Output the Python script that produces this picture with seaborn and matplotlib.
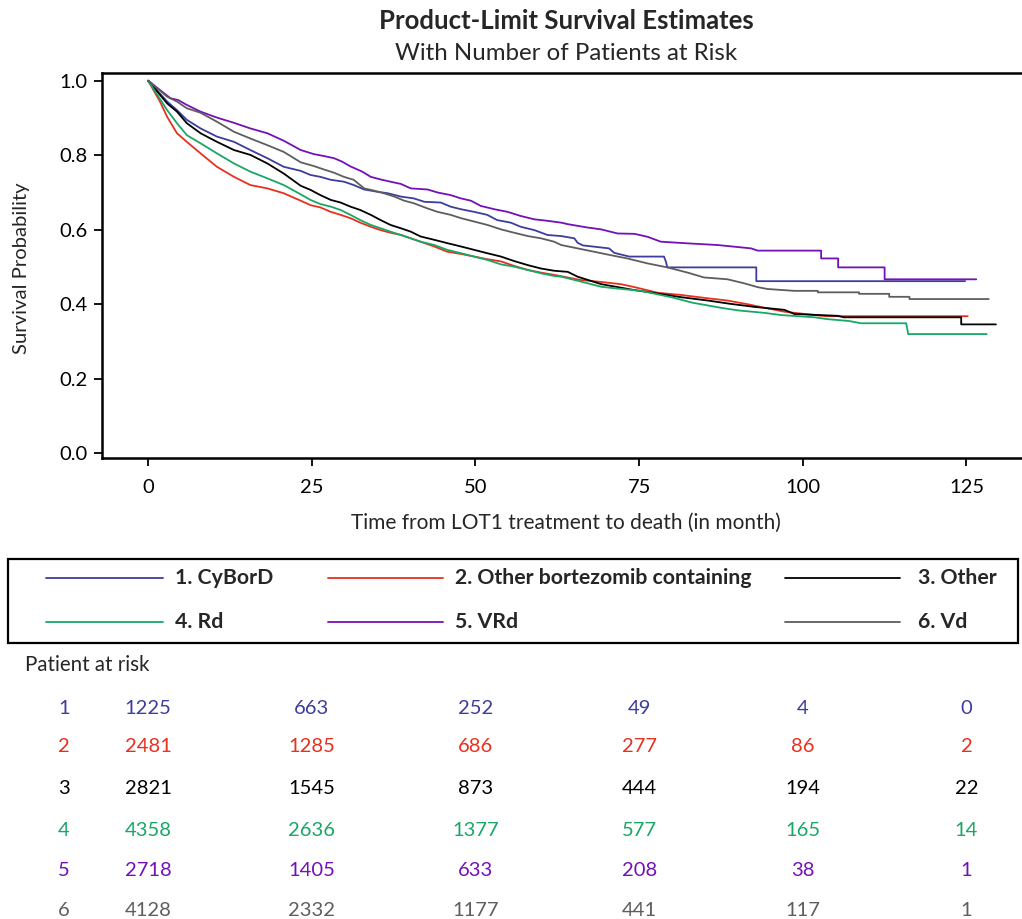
import numpy as np
import pandas as pd
import matplotlib
matplotlib.use("Agg")
import matplotlib.pyplot as plt
import seaborn as sns
from matplotlib.lines import Line2D
from matplotlib.patches import Rectangle
from matplotlib.transforms import blended_transform_factory

# ---------------- data ----------------
groups = ["1. CyBorD", "2. Other bortezomib containing", "3. Other", "4. Rd", "5. VRd", "6. Vd"]
colors = ["#3d3d9e", "#e8301f", "#000000", "#17a865", "#7410b8", "#5e5e5e"]

cybord_t = [0, 2.9, 4.4, 5.9, 8.0, 10.5, 13.1, 15.6, 18.2, 20.7, 23.3, 24.8, 26.3, 27.9, 29.9, 31.4, 33.0,
            35.0, 36.6, 38.6, 40.6, 42.2, 44.7, 46.2, 47.8, 49.8, 51.8, 53.3, 55.4, 56.9, 59.0, 61.0, 63.1,
            65.1, 65.6, 66.4, 70.4, 71.2, 73.5, 78.8, 79.1, 79.3, 92.9, 92.9, 124.8]
cybord_s = [1.0, 0.944, 0.921, 0.895, 0.872, 0.850, 0.836, 0.814, 0.792, 0.769, 0.758, 0.747, 0.742, 0.734,
            0.729, 0.720, 0.708, 0.702, 0.698, 0.689, 0.684, 0.675, 0.673, 0.662, 0.655, 0.648, 0.640, 0.626,
            0.619, 0.608, 0.599, 0.586, 0.583, 0.577, 0.565, 0.558, 0.550, 0.538, 0.528, 0.528, 0.514, 0.499,
            0.499, 0.462, 0.462]

obort_t = [0, 1.8, 2.9, 4.4, 5.9, 8.0, 10.5, 13.1, 15.6, 18.2, 20.7, 23.3, 24.8, 26.3, 27.9, 29.4, 30.9,
           32.4, 34.0, 35.5, 37.0, 38.6, 40.1, 41.6, 43.7, 45.7, 47.8, 49.8, 51.8, 53.9, 55.9, 58.0, 60.0,
           62.0, 66.1, 68.6, 72.2, 74.3, 77.8, 81.4, 85.5, 88.5, 91.6, 94.6, 97.2, 101.8, 103.6, 125.2]
obort_s = [1.0, 0.944, 0.903, 0.859, 0.836, 0.805, 0.769, 0.742, 0.720, 0.711, 0.698, 0.678, 0.666, 0.660,
           0.648, 0.640, 0.631, 0.619, 0.608, 0.599, 0.592, 0.586, 0.577, 0.568, 0.555, 0.541, 0.535, 0.528,
           0.521, 0.515, 0.503, 0.492, 0.485, 0.479, 0.465, 0.461, 0.454, 0.446, 0.431, 0.425, 0.416, 0.410,
           0.400, 0.389, 0.380, 0.371, 0.368, 0.368]

other_t = [0, 2.9, 4.4, 5.9, 8.0, 10.5, 13.1, 15.6, 18.2, 20.7, 23.3, 24.8, 26.3, 27.9, 29.4, 30.9, 32.4,
           34.0, 35.5, 37.0, 38.6, 40.1, 41.6, 43.7, 45.7, 47.8, 49.8, 51.8, 53.9, 55.9, 58.0, 60.0, 62.0,
           64.1, 65.6, 69.2, 74.3, 77.8, 81.4, 85.5, 89.0, 92.6, 97.2, 98.7, 105.3, 106.3, 124.2, 124.2, 129.5]
other_s = [1.0, 0.939, 0.917, 0.886, 0.859, 0.836, 0.814, 0.801, 0.778, 0.751, 0.718, 0.707, 0.693, 0.680,
           0.673, 0.662, 0.653, 0.640, 0.626, 0.613, 0.604, 0.595, 0.582, 0.573, 0.564, 0.555, 0.546, 0.537,
           0.528, 0.516, 0.505, 0.496, 0.490, 0.487, 0.474, 0.454, 0.438, 0.429, 0.419, 0.410, 0.401, 0.393,
           0.385, 0.374, 0.369, 0.365, 0.365, 0.346, 0.346]

rd_t = [0, 2.9, 4.4, 5.9, 8.0, 10.5, 13.1, 15.6, 18.2, 20.7, 23.3, 24.8, 26.3, 27.9, 29.4, 30.9, 32.4, 34.0,
        35.5, 37.0, 38.6, 40.1, 41.6, 43.7, 45.7, 47.8, 49.8, 51.8, 53.9, 55.9, 58.0, 60.0, 62.0, 63.1, 66.1,
        69.2, 71.2, 75.3, 79.9, 83.2, 88.0, 90.4, 94.1, 96.7, 101.8, 103.8, 107.1, 108.9, 115.8, 116.1, 128.1]
rd_s = [1.0, 0.921, 0.886, 0.854, 0.832, 0.805, 0.778, 0.756, 0.738, 0.720, 0.695, 0.680, 0.669, 0.662, 0.653,
        0.640, 0.626, 0.613, 0.604, 0.595, 0.586, 0.577, 0.568, 0.559, 0.546, 0.537, 0.528, 0.519, 0.507, 0.501,
        0.492, 0.483, 0.476, 0.474, 0.461, 0.447, 0.443, 0.436, 0.419, 0.404, 0.389, 0.383, 0.377, 0.371, 0.365,
        0.360, 0.355, 0.349, 0.349, 0.320, 0.320]

vrd_t = [0, 3.4, 4.6, 5.9, 8.0, 10.5, 13.1, 15.6, 18.2, 20.7, 23.3, 25.3, 26.8, 28.4, 29.6, 30.9, 32.7, 34.0,
         35.5, 37.0, 38.6, 40.1, 42.7, 44.2, 46.2, 47.8, 49.3, 50.8, 52.9, 54.9, 56.9, 59.0, 61.0, 63.1, 64.1,
         67.1, 69.2, 71.7, 74.3, 76.3, 78.3, 81.9, 87.0, 92.1, 93.1, 102.8, 102.8, 105.4, 105.4, 112.5, 112.5,
         126.5]
vrd_s = [1.0, 0.953, 0.948, 0.935, 0.917, 0.901, 0.887, 0.872, 0.859, 0.839, 0.814, 0.803, 0.798, 0.792, 0.783,
         0.770, 0.756, 0.742, 0.735, 0.729, 0.723, 0.711, 0.708, 0.700, 0.693, 0.684, 0.678, 0.664, 0.655, 0.648,
         0.637, 0.628, 0.624, 0.619, 0.615, 0.606, 0.601, 0.590, 0.589, 0.581, 0.568, 0.564, 0.559, 0.550, 0.544,
         0.544, 0.523, 0.523, 0.499, 0.499, 0.467, 0.467]

vd_t = [0, 2.9, 4.4, 5.9, 8.0, 10.5, 13.1, 15.6, 18.2, 20.7, 23.3, 25.3, 26.8, 28.4, 29.9, 31.4, 33.0, 34.5,
        36.0, 37.6, 39.1, 40.6, 42.7, 44.2, 46.2, 47.8, 49.8, 51.8, 53.9, 55.9, 58.0, 60.0, 62.0, 63.1, 65.6,
        68.1, 70.6, 73.2, 76.2, 79.3, 82.4, 84.9, 88.5, 91.1, 93.1, 94.6, 98.7, 102.3, 102.3, 108.6, 108.6,
        113.2, 113.2, 116.3, 116.3, 128.4]
vd_s = [1.0, 0.957, 0.944, 0.926, 0.914, 0.890, 0.863, 0.845, 0.827, 0.809, 0.781, 0.771, 0.762, 0.753, 0.742,
        0.734, 0.711, 0.705, 0.698, 0.689, 0.678, 0.671, 0.657, 0.648, 0.640, 0.631, 0.622, 0.613, 0.601, 0.592,
        0.583, 0.577, 0.568, 0.559, 0.550, 0.541, 0.532, 0.523, 0.510, 0.499, 0.485, 0.472, 0.467, 0.456, 0.446,
        0.441, 0.436, 0.436, 0.432, 0.432, 0.428, 0.428, 0.420, 0.420, 0.414, 0.414]

risk_times = [0, 25, 50, 75, 100, 125]
risk_1 = [1225, 663, 252, 49, 4, 0]
risk_2 = [2481, 1285, 686, 277, 86, 2]
risk_3 = [2821, 1545, 873, 444, 194, 22]
risk_4 = [4358, 2636, 1377, 577, 165, 14]
risk_5 = [2718, 1405, 633, 208, 38, 1]
risk_6 = [4128, 2332, 1177, 441, 117, 1]

x_ticks = [0, 25, 50, 75, 100, 125]
y_ticks = [0.0, 0.2, 0.4, 0.6, 0.8, 1.0]

curves_t = [cybord_t, obort_t, other_t, rd_t, vrd_t, vd_t]
curves_s = [cybord_s, obort_s, other_s, rd_s, vrd_s, vd_s]
risks = [risk_1, risk_2, risk_3, risk_4, risk_5, risk_6]

frames = []
for g, t, s in zip(groups, curves_t, curves_s):
    frames.append(pd.DataFrame({"t": t, "S": s, "group": g}))
df = pd.concat(frames, ignore_index=True)

# ---------------- style ----------------
sns.set_style("white")
FONT = ["Lato", "DejaVu Sans"]
plt.rcParams["font.family"] = FONT

W, H = 1022, 919
fig = plt.figure(figsize=(W / 100, H / 100), dpi=100)

def fx(px):
    return px / W

def fy(py):
    return 1 - py / H

ax = fig.add_axes([fx(101.7), fy(457.7), fx(1022 - 101.7) + 0.002, fy(72.7) - fy(457.7)])

palette = dict(zip(groups, colors))
sns.lineplot(data=df, x="t", y="S", hue="group", palette=palette, estimator=None, sort=False,
             units="group", legend=False, linewidth=1.3, ax=ax)

ax.set_xlim(-7.1, 133.8)
ax.set_ylim(-0.0118, 1.0215)
ax.set_xticks(x_ticks)
ax.set_yticks(y_ticks)
ax.set_xticklabels([str(v) for v in x_ticks])
ax.set_yticklabels([f"{v:.1f}" for v in y_ticks])
ax.tick_params(axis="both", direction="out", length=6, width=1.3, labelsize=14.5, colors="black",
               left=True, bottom=True, pad=4)
ax.tick_params(axis="x", pad=9)
ax.set_xlabel("")
ax.set_ylabel("")
for side in ["left", "bottom", "top"]:
    ax.spines[side].set_visible(True)
    ax.spines[side].set_color("black")
    ax.spines[side].set_linewidth(1.8)
ax.spines["right"].set_visible(False)
ax.grid(False)

# titles and axis labels
fig.text(fx(566), fy(21), "Product-Limit Survival Estimates", ha="center", va="center",
         fontsize=18.5, fontweight="bold")
fig.text(fx(566), fy(54), "With Number of Patients at Risk", ha="center", va="center", fontsize=17.3)
fig.text(fx(566), fy(523), "Time from LOT1 treatment to death (in month)", ha="center", va="center",
         fontsize=15)
fig.text(fx(22), fy(268), "Survival Probability", ha="center", va="center", rotation=90, fontsize=14.6)

# legend box
fig.patches.append(Rectangle((fx(8), fy(643)), fx(1018 - 8), fy(559) - fy(643), transform=fig.transFigure,
                             fill=False, edgecolor="black", linewidth=1.6))
leg_line_x = [(46, 163), (328, 443), (785, 900)]
leg_text_x = [175, 455, 918]
leg_row_y = [578, 622]
for i, (g, c) in enumerate(zip(groups, colors)):
    r, col = divmod(i, 3)
    x0, x1 = leg_line_x[col]
    yy = fy(leg_row_y[r])
    fig.lines.append(Line2D([fx(x0), fx(x1)], [yy, yy], transform=fig.transFigure, color=c, linewidth=1.3))
    fig.text(fx(leg_text_x[col]), yy, g, ha="left", va="center", fontsize=15.3, fontweight="bold")

# risk table
fig.text(fx(25), fy(665), "Patient at risk", ha="left", va="center", fontsize=14.8)
row_y = [708, 747, 788, 830, 871, 910]
trans = blended_transform_factory(ax.transData, fig.transFigure)
for i, (vals, c) in enumerate(zip(risks, colors)):
    yy = fy(row_y[i])
    fig.text(fx(64), yy, str(i + 1), ha="center", va="center", fontsize=14.5, color=c)
    for tt, v in zip(risk_times, vals):
        fig.text(tt, yy, str(v), ha="center", va="center", fontsize=14.5, color=c, transform=trans)

fig.savefig("out.png", dpi=100)
